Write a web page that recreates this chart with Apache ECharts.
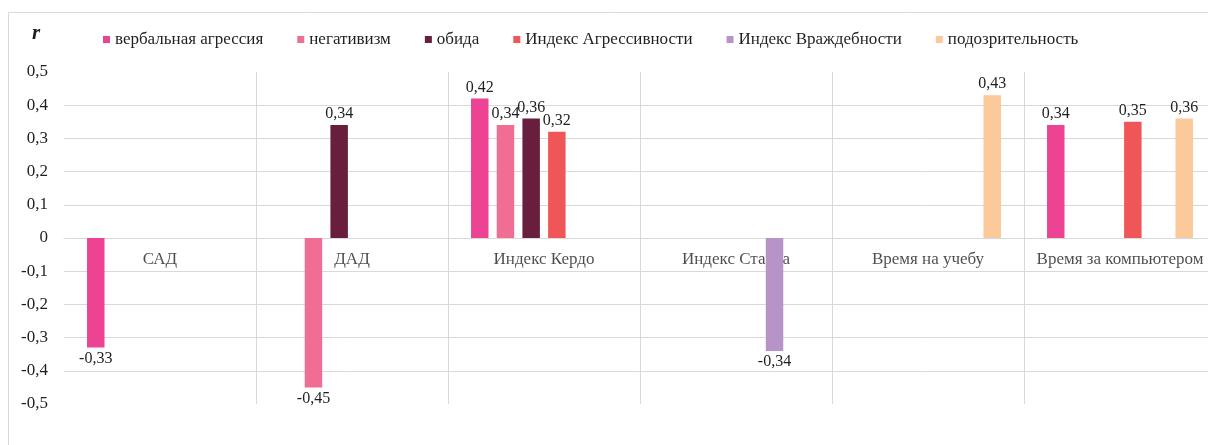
<!DOCTYPE html>
<html>
<head>
<meta charset="utf-8">
<script src="https://cdn.jsdelivr.net/npm/echarts@6/dist/echarts.min.js"></script>
<style>
html,body{margin:0;padding:0;background:#fff;}
#chart{width:1208px;height:445px;}
</style>
</head>
<body>
<div id="chart"></div>
<script>
const categories = ['САД', 'ДАД', 'Индекс Кердо', 'Индекс Старра', 'Время на учебу', 'Время за компьютером'];
const seriesNames = ['вербальная агрессия', 'негативизм', 'обида', 'Индекс Агрессивности', 'Индекс Враждебности', 'подозрительность'];
const verbalAggression = [-0.33, null, 0.42, null, null, 0.34];
const negativism = [null, -0.45, 0.34, null, null, null];
const resentment = [null, 0.34, 0.36, null, null, null];
const aggressionIndex = [null, null, 0.32, null, null, 0.35];
const hostilityIndex = [null, null, null, -0.34, null, null];
const suspicion = [null, null, null, null, 0.43, 0.36];
const seriesValues = [verbalAggression, negativism, resentment, aggressionIndex, hostilityIndex, suspicion];
const colors = ['#EC4392', '#F06E94', '#681E3C', '#F05657', '#B794C7', '#FBC99A'];
const yTicks = { min: -0.5, max: 0.5, interval: 0.1 };

const FONT = "'Liberation Serif', 'Times New Roman', serif";
const comma = v => (v === 0 ? '0' : (Math.round(v * 100) / 100).toString().replace('.', ','));

const chart = echarts.init(document.getElementById('chart'));
const barSeries = seriesNames.map((name, si) => ({
  name,
  type: 'bar',
  z: 3,
  barGap: '47%',
  barCategoryGap: '24%',
  itemStyle: { color: colors[si] },
  label: {
    show: true,
    fontFamily: FONT, fontSize: 16, color: '#1f1f1f',
    distance: 3,
    formatter: p => comma(p.value)
  },
  data: seriesValues[si].map(v => v == null ? '-' : {
    value: v,
    label: { position: v < 0 ? 'bottom' : 'top' }
  })
}));
// category labels placed on the zero line through the axis scales
const categoryLabelSeries = {
  name: 'categoryLabels',
  type: 'scatter',
  z: 1,
  silent: true,
  symbolSize: 0,
  label: {
    show: true, position: 'bottom', distance: 13,
    fontFamily: FONT, fontSize: 17, color: '#1f1f1f',
    formatter: p => p.name
  },
  data: categories.map(c => ({ name: c, value: [c, 0] }))
};

chart.setOption({
  animation: false,
  backgroundColor: '#fff',
  color: colors,
  textStyle: { fontFamily: FONT },
  graphic: [{
    type: 'rect', left: 6, top: 10, z: -10, silent: true,
    shape: { width: 1240, height: 480 },
    style: { fill: 'none', stroke: '#d9d9d9', lineWidth: 1 }
  }, {
    type: 'text', left: 32, top: 23,
    style: { text: 'r', font: "italic bold 21px 'Liberation Serif', serif", fill: '#1f1f1f' }
  }],
  legend: {
    left: 98, top: 26,
    itemWidth: 7, itemHeight: 7, itemGap: 34,
    icon: 'rect',
    textStyle: { fontFamily: FONT, fontSize: 17, color: '#1f1f1f' },
    data: seriesNames
  },
  grid: { left: 64, top: 72, width: 1152, height: 332, containLabel: false, outerBoundsMode: 'none' },
  xAxis: {
    type: 'category',
    data: categories,
    axisLine: { show: true, onZero: true, lineStyle: { color: '#d9d9d9' } },
    axisTick: { show: false },
    axisLabel: { show: false },
    splitLine: { show: true, interval: (i) => i !== 0, lineStyle: { color: '#d9d9d9' } }
  },
  yAxis: {
    type: 'value',
    min: yTicks.min, max: yTicks.max, interval: yTicks.interval,
    axisLine: { show: false },
    axisTick: { show: false },
    axisLabel: { fontFamily: FONT, fontSize: 17, color: '#1f1f1f', margin: 16, formatter: comma },
    splitLine: { show: true, showMinLine: false, showMaxLine: false, lineStyle: { color: '#d9d9d9' } }
  },
  series: barSeries.concat([categoryLabelSeries])
});
</script>
</body>
</html>
